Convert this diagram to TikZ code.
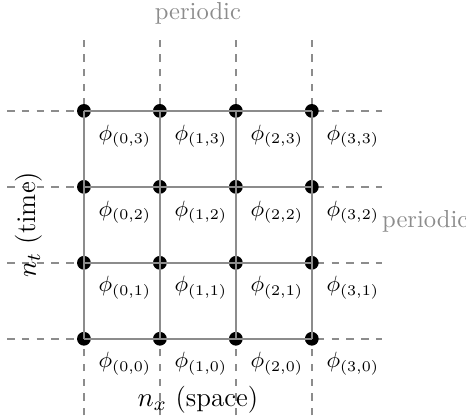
\documentclass[tikz,border=0pt]{standalone}
\usepackage{amsmath}
\usepackage{tikz}
\usetikzlibrary{positioning}

\begin{document}
\begin{tikzpicture}[
    x=1.086cm, y=1.086cm,
    site/.style={circle, fill=black, inner sep=0pt, minimum size=5.6pt},
    link/.style={draw=black!45, line width=0.85pt},
    bnd/.style={draw=black!45, dashed, line width=0.85pt},
    fld/.style={inner sep=1pt, font=\small},
    lbl/.style={text=black!45},
    axis/.style={font=\fontsize{11}{13}\selectfont}
]
\useasboundingbox (-1.105,-1.01) rectangle (5.03,4.46);

% periodic continuation
\foreach \k in {0,...,3} {
  \coordinate (top\k) at (\k,3.93);
  \coordinate (bot\k) at (\k,-1.01);
  \coordinate (lft\k) at (-1.01,\k);
  \coordinate (rgt\k) at (3.93,\k);
  \draw[bnd] (bot\k) -- (top\k);
  \draw[bnd] (lft\k) -- (rgt\k);
}

% lattice sites and fields
\foreach \i in {0,...,3} {
  \foreach \j in {0,...,3} {
    \node[site] (s\i\j) at (\i,\j) {};
    \node[fld] (f\i\j) at (\i+0.54,\j-0.33) {$\phi_{(\i,\j)}$};
  }
}

% links
\foreach \k in {0,...,3} {
  \draw[link] (s0\k.center) -- (s3\k.center);
  \draw[link] (s\k0.center) -- (s\k3.center);
}

\node[lbl] (ptop) at (1.5,4.29) {periodic};
\node[lbl, anchor=west, inner sep=0pt] (prgt) at (3.92,1.54) {periodic};
\node[axis] (nx) at (1.5,-0.8) {$n_x$ (space)};
\node[axis, rotate=90] (nt) at (-0.72,1.5) {$n_t$ (time)};
\end{tikzpicture}
\end{document}
